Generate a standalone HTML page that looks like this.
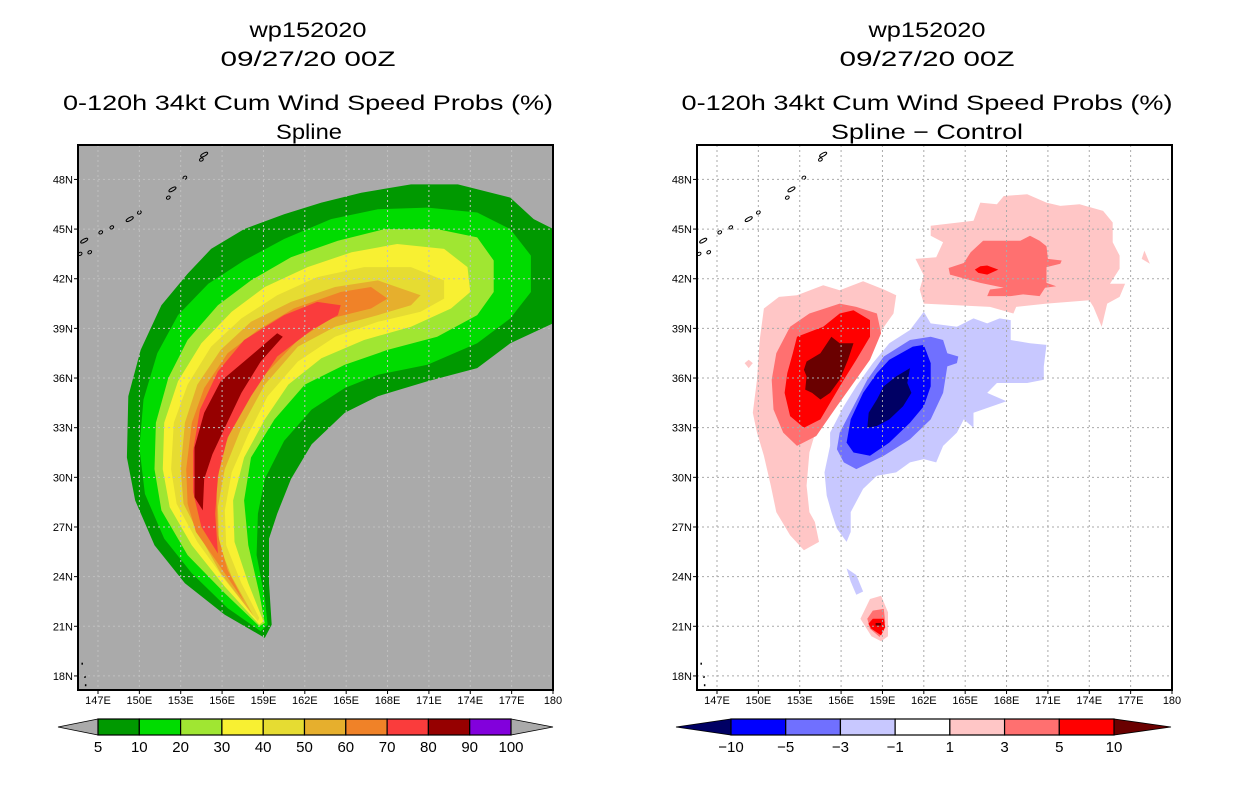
<!DOCTYPE html>
<html><head><meta charset="utf-8"><style>
html,body{margin:0;padding:0;background:#fff;}
svg{display:block;font-family:"Liberation Sans",sans-serif;}
</style></head><body>
<svg id="svg" width="1236" height="800" viewBox="0 0 1236 800" xmlns="http://www.w3.org/2000/svg">
<rect width="1236" height="800" fill="#fff"/>
<g font-size="21" text-anchor="middle" fill="#000">
<text x="308" y="37" textLength="117" lengthAdjust="spacingAndGlyphs">wp152020</text>
<text x="308" y="66" textLength="175" lengthAdjust="spacingAndGlyphs">09/27/20 00Z</text>
<text x="308" y="110" textLength="490" lengthAdjust="spacingAndGlyphs">0-120h 34kt Cum Wind Speed Probs (%)</text>
<text x="309" y="139" textLength="66" lengthAdjust="spacingAndGlyphs">Spline</text>
<text x="927" y="37" textLength="117" lengthAdjust="spacingAndGlyphs">wp152020</text>
<text x="927" y="66" textLength="175" lengthAdjust="spacingAndGlyphs">09/27/20 00Z</text>
<text x="927" y="110" textLength="491" lengthAdjust="spacingAndGlyphs">0-120h 34kt Cum Wind Speed Probs (%)</text>
<text x="927" y="139" textLength="192" lengthAdjust="spacingAndGlyphs">Spline − Control</text>
</g>
<defs>
<clipPath id="clipL"><rect x="78" y="145" width="475" height="545"/></clipPath>
<clipPath id="clipR"><rect x="697" y="145" width="475" height="545"/></clipPath>
</defs>
<g id="mapL"></g>
<g id="mapR"></g>
<g id="bars"></g>
</svg>
<script>
const latTicks=[18,21,24,27,30,33,36,39,42,45,48];
const lonTicks=[147,150,153,156,159,162,165,168,171,174,177,180];
const probLevels=[5,10,20,30,40,50,60,70,80,90,100];
const probColors=["#009900","#00dc00","#a0e632","#f8f032","#e6dc32","#e6af2d","#f08228","#fa3c3c","#960000","#8200dc"];
const diffLevels=["−10","−5","−3","−1","1","3","5","10"];
const diffColors=["#000064","#0000ff","#7070ff","#c8c8ff","#ffffff","#ffc6c6","#ff7070","#ff0000","#6a0000"];

const prob5=[[159.1,20.3],[156.2,21.7],[153.3,23.6],[151.1,25.9],[149.7,28.6],[149.1,31.2],[149.2,34.9],[150.1,37.7],[151.6,40.4],[153.5,42.3],[155.2,43.8],[157.6,45.0],[160.5,45.9],[163.2,46.6],[166.1,47.2],[169.7,47.7],[173.1,47.7],[176.9,46.9],[178.6,45.6],[180.5,44.8],[180.5,39.5],[176.9,38.1],[174.5,36.6],[170.9,35.8],[167.3,34.9],[164.9,33.9],[162.5,32.0],[161.0,29.9],[160.0,27.8],[159.4,26.3],[159.4,23.6],[159.6,21.1]];
const prob10=[[158.8,20.7],[156.4,22.1],[153.8,24.2],[151.8,26.3],[150.4,29.0],[150.0,31.8],[150.3,34.7],[151.3,37.5],[152.8,39.8],[155.0,41.7],[157.6,43.1],[160.5,44.4],[163.9,45.6],[167.3,46.2],[170.9,46.3],[174.5,46.0],[176.9,45.0],[178.4,43.4],[178.4,41.2],[176.9,39.6],[174.5,38.1],[170.9,36.8],[167.3,36.2],[164.9,35.4],[162.5,34.1],[160.5,32.2],[159.1,29.9],[158.6,27.8],[158.5,25.3],[159.1,22.7],[159.3,21.1]];
const prob20=[[158.7,21.0],[156.2,23.0],[153.5,25.3],[151.6,28.0],[151.1,30.5],[151.2,33.3],[152.1,36.0],[153.5,38.3],[155.7,40.4],[158.1,41.9],[161.0,43.3],[164.4,44.3],[167.8,45.0],[171.6,45.0],[174.5,44.5],[175.7,43.1],[175.7,41.2],[174.5,39.8],[171.6,38.5],[168.0,37.7],[164.9,36.8],[162.0,35.6],[159.8,33.5],[158.1,31.2],[157.6,28.6],[157.9,25.9],[158.7,23.0],[159.1,21.2]];
const prob30=[[158.7,21.1],[156.2,23.4],[153.8,25.9],[152.2,28.2],[151.7,30.5],[151.8,33.3],[152.8,35.8],[154.5,38.1],[156.7,40.0],[159.1,41.5],[162.2,42.7],[165.4,43.6],[168.7,44.1],[172.1,43.8],[173.8,42.7],[174.0,41.2],[172.6,40.2],[169.7,39.1],[166.3,38.3],[163.2,37.2],[160.8,35.6],[159.1,33.5],[157.6,31.2],[156.8,28.6],[156.9,26.1],[157.9,23.6],[159.0,21.3]];
const prob40=[[158.6,21.3],[156.2,23.8],[154.2,26.1],[152.7,28.4],[152.3,30.5],[152.5,33.3],[153.5,35.6],[155.2,37.9],[157.4,39.6],[160.0,41.0],[162.9,42.1],[166.3,42.7],[169.7,42.7],[172.1,41.9],[172.1,40.8],[170.4,40.0],[167.3,39.4],[164.2,38.5],[161.5,37.0],[159.3,34.9],[157.9,32.6],[156.7,30.3],[156.2,28.0],[156.3,25.9],[157.4,23.6],[158.7,21.5]];
const prob50=[[158.3,21.6],[155.9,24.2],[154.5,26.3],[153.2,28.4],[153.0,30.5],[153.3,33.3],[154.2,35.6],[155.9,37.7],[158.1,39.4],[161.0,40.6],[164.2,41.5],[167.3,41.9],[170.4,41.0],[169.7,40.4],[167.3,39.8],[164.2,39.1],[161.5,37.9],[159.1,35.6],[157.4,33.0],[156.2,30.5],[155.7,28.2],[155.8,25.9],[156.7,24.0],[158.1,21.9]];
const prob60=[[157.6,22.5],[155.7,24.8],[154.1,26.7],[153.5,28.4],[153.4,30.5],[153.8,33.3],[154.7,35.4],[156.4,37.5],[158.6,38.9],[161.2,40.2],[164.6,41.2],[166.8,41.5],[168.0,40.8],[166.8,40.2],[163.9,39.6],[161.5,38.3],[159.1,36.2],[157.1,33.9],[155.9,31.2],[155.6,29.1],[155.7,26.5],[156.4,24.4]];
const prob70=[[155.7,25.4],[154.5,27.0],[153.9,29.1],[153.9,31.6],[154.4,34.1],[155.7,36.4],[157.6,38.3],[160.5,39.8],[162.9,40.6],[164.6,40.4],[164.4,39.8],[162.5,38.9],[160.0,37.3],[158.1,34.9],[156.4,32.4],[155.7,30.1],[155.5,27.8]];
const prob80=[[154.6,28.0],[154.0,28.8],[154.0,31.8],[154.7,33.9],[155.9,35.8],[157.6,37.0],[160.0,38.7],[160.4,38.5],[158.8,37.0],[157.4,35.1],[156.2,33.0],[155.3,31.4],[154.7,29.9]];
const probContours=[prob5,prob10,prob20,prob30,prob40,prob50,prob60,prob70,prob80];

const diffW1=[[150.1,38.3],[150.4,40.2],[151.5,40.9],[152.8,41.0],[154.7,41.6],[155.9,41.3],[157.6,41.85],[159.1,41.35],[160.0,41.0],[159.8,39.9],[158.6,38.5],[157.1,37.1],[155.9,35.7],[155.0,34.3],[154.2,32.9],[153.7,31.5],[153.5,29.5],[153.7,27.9],[154.1,27.3],[154.4,26.1],[153.3,25.6],[152.3,26.5],[151.3,27.9],[150.9,29.5],[150.4,31.3],[149.9,32.7],[149.6,33.9],[149.9,35.9]];
const diffW3=[[152.3,39.1],[153.7,39.9],[155.9,40.5],[157.1,40.3],[158.6,39.9],[158.9,38.7],[158.1,37.1],[156.9,35.7],[155.7,34.3],[154.7,33.1],[154.2,32.5],[152.8,31.9],[151.8,32.7],[151.1,34.1],[150.97,35.9],[151.3,37.5]];
const diffW5=[[152.8,38.5],[154.7,39.1],[155.9,39.9],[156.9,40.1],[158.1,39.5],[158.1,38.5],[157.1,37.1],[156.2,35.9],[155.2,34.5],[154.5,33.5],[153.3,33.0],[152.3,33.7],[151.9,35.1],[152.1,36.3],[152.5,37.5]];
const diffW10=[[153.5,37.0],[154.5,37.5],[155.3,38.5],[155.9,38.1],[156.9,38.1],[156.5,37.1],[155.9,35.9],[155.2,35.1],[154.5,34.7],[153.9,35.1],[153.4,35.3],[153.5,36.1],[153.3,36.5]];
const diffB1=[[162.0,40.0],[162.5,39.3],[164.4,39.1],[165.6,39.6],[166.6,39.3],[167.5,39.6],[168.3,39.5],[168.3,38.3],[169.7,38.1],[170.9,38.0],[170.7,36.7],[170.7,35.9],[169.5,35.7],[167.3,35.7],[166.6,35.1],[168.0,34.6],[165.6,33.9],[165.6,33.0],[164.9,33.5],[164.4,32.7],[163.4,31.9],[162.9,30.9],[162.0,31.1],[161.0,30.9],[160.0,30.3],[158.6,30.1],[157.6,29.3],[156.7,27.9],[156.7,26.7],[156.4,26.1],[155.7,26.9],[155.3,27.9],[154.96,28.9],[154.8,30.3],[155.2,31.9],[155.2,32.7],[156.2,34.3],[157.1,35.5],[158.3,36.9],[159.5,38.1],[161.0,38.9]];
const diffB1tail=[[156.4,24.5],[157.1,24.1],[157.6,23.1],[157.1,22.9],[156.7,23.7]];
const diffB3=[[159.1,37.3],[161.0,38.3],[162.5,38.5],[163.4,38.3],[163.7,37.5],[164.5,37.3],[164.4,36.9],[163.7,36.7],[163.4,35.1],[162.5,33.5],[161.0,32.3],[159.1,31.3],[157.1,30.5],[156.2,30.9],[155.7,31.7],[155.9,32.7],[156.9,34.3],[157.9,35.9]];
const diffB5=[[159.5,37.1],[161.2,37.9],[162.0,38.0],[162.5,36.9],[162.5,35.5],[162.0,34.3],[161.0,33.3],[159.5,32.1],[158.1,31.3],[156.9,31.5],[156.4,32.1],[156.7,33.5],[157.6,35.1],[158.6,36.3]];
const diffB10=[[159.1,35.5],[160.0,36.1],[161.0,36.6],[160.8,35.7],[161.1,35.1],[160.5,34.3],[159.5,33.5],[158.6,33.1],[157.9,33.0],[158.0,33.9],[158.6,34.7]];
const diffNE1=[[162.5,45.2],[165.6,45.5],[166.1,46.6],[167.3,46.5],[167.8,47.0],[169.5,47.1],[170.9,46.6],[171.9,46.4],[173.3,46.5],[175.0,46.1],[175.7,45.4],[175.7,44.2],[176.2,43.4],[176.2,42.6],[175.5,41.7],[176.6,41.7],[176.2,40.9],[175.3,40.5],[174.9,39.1],[174.3,40.3],[174.0,40.7],[170.9,40.5],[168.7,40.3],[168.5,39.9],[166.8,40.3],[164.4,40.4],[162.0,40.5],[161.7,41.35],[162.0,42.2],[161.4,43.2],[162.9,43.3],[163.4,44.2],[162.5,44.6]];
const diffNE3=[[165.4,43.6],[166.3,44.3],[169.0,44.3],[169.7,44.6],[170.4,44.3],[170.9,43.96],[171.0,43.2],[172.0,43.1],[171.9,42.9],[170.9,42.7],[170.9,41.75],[171.6,41.55],[170.8,41.45],[170.4,40.95],[169.2,41.05],[168.3,40.95],[166.6,40.95],[166.8,41.35],[167.8,41.45],[166.1,41.75],[163.9,42.25],[163.8,42.65],[164.9,42.95]];
const diffNE5=[[165.7,42.55],[166.1,42.75],[166.6,42.8],[167.4,42.55],[166.6,42.25],[165.95,42.35]];
const diffS1=[[158.1,22.65],[158.9,22.85],[159.4,21.85],[159.4,20.4],[158.9,20.1],[158.2,20.4],[157.4,21.45]];
const diffS3=[[158.3,21.95],[159.1,22.05],[159.2,21.25],[158.8,20.35],[158.1,20.85],[157.9,21.45]];
const diffS5=[[158.3,21.45],[159.1,21.45],[159.2,20.95],[158.9,20.45],[158.2,20.85],[157.98,21.15]];
const diffS10=[[158.5,21.2],[158.9,21.2],[158.9,21.05],[158.5,21.05]];
const diffBlipW=[[149.3,36.6],[149.6,36.9],[149.3,37.1],[149.0,36.9]];
const diffBlipE=[[177.8,43.2],[178.4,42.9],[178.0,43.7]];
const diffContours=[[5,diffW1],[5,diffNE1],[5,diffS1],[5,diffBlipW],[5,diffBlipE],[3,diffB1],[3,diffB1tail],[6,diffW3],[6,diffNE3],[6,diffS3],[2,diffB3],[7,diffW5],[7,diffNE5],[7,diffS5],[1,diffB5],[8,diffW10],[8,diffS10],[0,diffB10]];

const coast=[[154.7,49.5],[154.5,49.2],[153.3,48.1],[152.4,47.4],[152.1,46.9],[150.0,46.0],[149.3,45.6],[148.0,45.1],[147.2,44.8],[146.0,44.3],[145.7,43.5],[146.4,43.6]];

const NS="http://www.w3.org/2000/svg";
function el(tag,attrs,parent){const e=document.createElementNS(NS,tag);for(const k in attrs)e.setAttribute(k,attrs[k]);parent.appendChild(e);return e;}
const LON0=145.55,LON1=180,LAT0=17.15,LAT1=50.08;
function makeAxes(x0){const w=475,y0=145,h=545;
 return {x:lon=>x0+(lon-LON0)/(LON1-LON0)*w,y:lat=>y0+h-(lat-LAT0)/(LAT1-LAT0)*h,x0,y0,w,h};}
const AL=makeAxes(78),AR=makeAxes(697);
function pts(poly,A){return poly.map(p=>A.x(p[0]).toFixed(1)+","+A.y(p[1]).toFixed(1)).join(" ");}

function drawMap(g,A,clip,bg){
 const c=el('g',{'clip-path':'url(#'+clip+')'},g);
 const r=el('rect',{x:A.x0,y:A.y0,width:A.w,height:A.h,fill:bg},c);
 
 
 return c;
}
function drawGridFrame(g,A,gridColor){
 lonTicks.forEach(l=>{const x=A.x(l);
  const ln=el('line',{x1:x,x2:x,y1:A.y0,y2:A.y0+A.h,stroke:gridColor,'stroke-width':1,'stroke-dasharray':'2,3'},g);
  
  
  el('line',{x1:x,x2:x,y1:A.y0+A.h,y2:A.y0+A.h+4,stroke:'#000'},g);
  const t=el('text',{x:x,y:A.y0+A.h+14,'font-size':11,'text-anchor':'middle'},g);
  t.textContent=l===180?'180':l+'E';
  
  
 });
 latTicks.forEach(l=>{const y=A.y(l);
  const ln=el('line',{x1:A.x0,x2:A.x0+A.w,y1:y,y2:y,stroke:gridColor,'stroke-width':1,'stroke-dasharray':'2,3'},g);
  
  
  el('line',{x1:A.x0-4,x2:A.x0,y1:y,y2:y,stroke:'#000'},g);
  const t=el('text',{x:A.x0-5,y:y+4,'font-size':11,'text-anchor':'end'},g);
  t.textContent=l+'N';
  
  
 });
 const f=el('rect',{x:A.x0,y:A.y0,width:A.w,height:A.h,fill:'none',stroke:'#000','stroke-width':2},g);
 
 
}
function drawCoast(g,A){
 coast.forEach((p,i)=>{const e=el('ellipse',{cx:A.x(p[0]),cy:A.y(p[1]),rx:i%3===0?4:2,ry:1.5,fill:'none',stroke:'#000','stroke-width':1,transform:'rotate(-30 '+A.x(p[0])+' '+A.y(p[1])+')'},g);
  
  });
 [[145.8,18.8],[146.0,18.0],[146.05,17.5]].forEach(p=>{const d=el('rect',{x:A.x(p[0]),y:A.y(p[1]),width:1.5,height:2,fill:'#000'},g);
  
  });
}

const gL=document.getElementById('mapL');
const cL=drawMap(gL,AL,'clipL','#aaaaaa');
probContours.forEach((poly,i)=>{const p=el('polygon',{points:pts(poly,AL),fill:probColors[i]},cL);
 
 });
drawCoast(cL,AL);
drawGridFrame(gL,AL,'#c0c0c0');
const gR=document.getElementById('mapR');
const cR=drawMap(gR,AR,'clipR','#ffffff');
diffContours.forEach(([ci,poly])=>{const p=el('polygon',{points:pts(poly,AR),fill:diffColors[ci]},cR);
 
 });
drawCoast(cR,AR);
drawGridFrame(gR,AR,'#aaaaaa');

const gB=document.getElementById('bars');
function colorbar(x0,x1,tipL,tipR,colors,leftC,rightC,labels,name){
 const y0=719,y1=735,ym=727,n=colors.length,w=(x1-x0)/n;
 const a=el('polygon',{points:`${tipL},${ym} ${x0},${y0} ${x0},${y1}`,fill:leftC,stroke:'#000','stroke-width':0.8},gB);
 
 
 const b=el('polygon',{points:`${tipR},${ym} ${x1},${y0} ${x1},${y1}`,fill:rightC,stroke:'#000','stroke-width':0.8},gB);
 
 
 colors.forEach((c,i)=>{const r=el('rect',{x:x0+i*w,y:y0,width:w,height:y1-y0,fill:c,stroke:'#000','stroke-width':1.2},gB);
  
  });
 labels.forEach((l,i)=>{const t=el('text',{x:x0+i*w,y:752,'font-size':15,'text-anchor':'middle'},gB);
  t.textContent=l;
  
  });
}
colorbar(98,511,58,553,probColors,'#aaaaaa','#aaaaaa',probLevels,'prob-colorbar');
colorbar(731,1114,676,1171,diffColors.slice(1,8),diffColors[0],diffColors[8],diffLevels,'diff-colorbar');
</script>
</body></html>
